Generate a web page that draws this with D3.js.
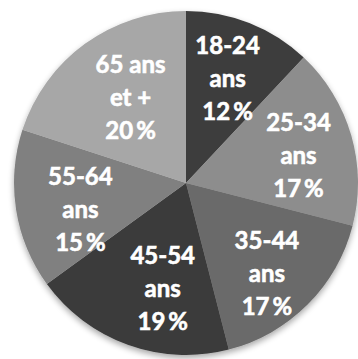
<!DOCTYPE html>
<html>
<head>
<meta charset="utf-8">
<script src="https://cdn.jsdelivr.net/npm/d3@7"></script>
<style>
  html, body { margin: 0; padding: 0; background: #ffffff; }
  svg { display: block; }
</style>
</head>
<body>
<svg id="chart" width="358" height="359"></svg>
<script>
// Age groups and their share (%)
const categories = ["18-24", "25-34", "35-44", "45-54", "55-64", "65 ans"];
const secondLines = ["ans", "ans", "ans", "ans", "ans", "et +"];
const values = [12, 17, 17, 19, 15, 20];
const sliceColors = ["#3d3d3d", "#8d8d8d", "#6b6b6b", "#3b3b3b", "#808080", "#a7a7a7"];

// Small per-label nudges from the centroid position (px)
const nudges = [[0, 1], [4, 5], [1, 11], [15, 0], [6, 9], [11, 6]];

const width = 358, height = 359;
const cx = 186, cy = 183, radius = 172, labelRadius = 113;

const svg = d3.select("#chart");

const defs = svg.append("defs");
const shadow = defs.append("filter").attr("id", "shadow")
  .attr("x", "-10%").attr("y", "-10%").attr("width", "120%").attr("height", "125%");
shadow.append("feGaussianBlur").attr("in", "SourceAlpha").attr("stdDeviation", 3);
shadow.append("feOffset").attr("dx", 0).attr("dy", 3).attr("result", "off");
shadow.append("feComponentTransfer").append("feFuncA").attr("type", "linear").attr("slope", 0.35);
const merge = shadow.append("feMerge");
merge.append("feMergeNode");
merge.append("feMergeNode").attr("in", "SourceGraphic");

const data = categories.map((c, i) => ({ cat: c, line2: secondLines[i], value: values[i], i }));

const pie = d3.pie().value(d => d.value).sort(null);
const arc = d3.arc().innerRadius(0).outerRadius(radius);
const labelArc = d3.arc().innerRadius(labelRadius).outerRadius(labelRadius);

const g = svg.append("g").attr("transform", `translate(${cx},${cy})`);

const arcs = pie(data);

g.append("g").attr("filter", "url(#shadow)")
  .selectAll("path")
  .data(arcs)
  .join("path")
  .attr("d", arc)
  .attr("fill", d => sliceColors[d.data.i]);

const lineGap = 33;
const labels = g.append("g")
  .selectAll("text")
  .data(arcs)
  .join("text")
  .attr("text-anchor", "middle")
  .attr("fill", "#ffffff")
  .attr("stroke", "#ffffff")
  .attr("stroke-width", 0.6)
  .attr("font-family", "Lato, 'Open Sans', sans-serif")
  .attr("font-weight", "bold")
  .attr("font-size", 24)
  .attr("transform", d => {
    const [x, y] = labelArc.centroid(d);
    const n = nudges[d.data.i];
    return `translate(${x + n[0]},${y + n[1]})`;
  });

labels.each(function(d) {
  const t = d3.select(this);
  const lines = [d.data.cat, d.data.line2, d.data.value + "\u2009%"];
  lines.forEach((s, k) => {
    t.append("tspan")
      .attr("x", 0)
      .attr("y", (k - 1) * lineGap + 8)
      .text(s);
  });
});
</script>
</body>
</html>
